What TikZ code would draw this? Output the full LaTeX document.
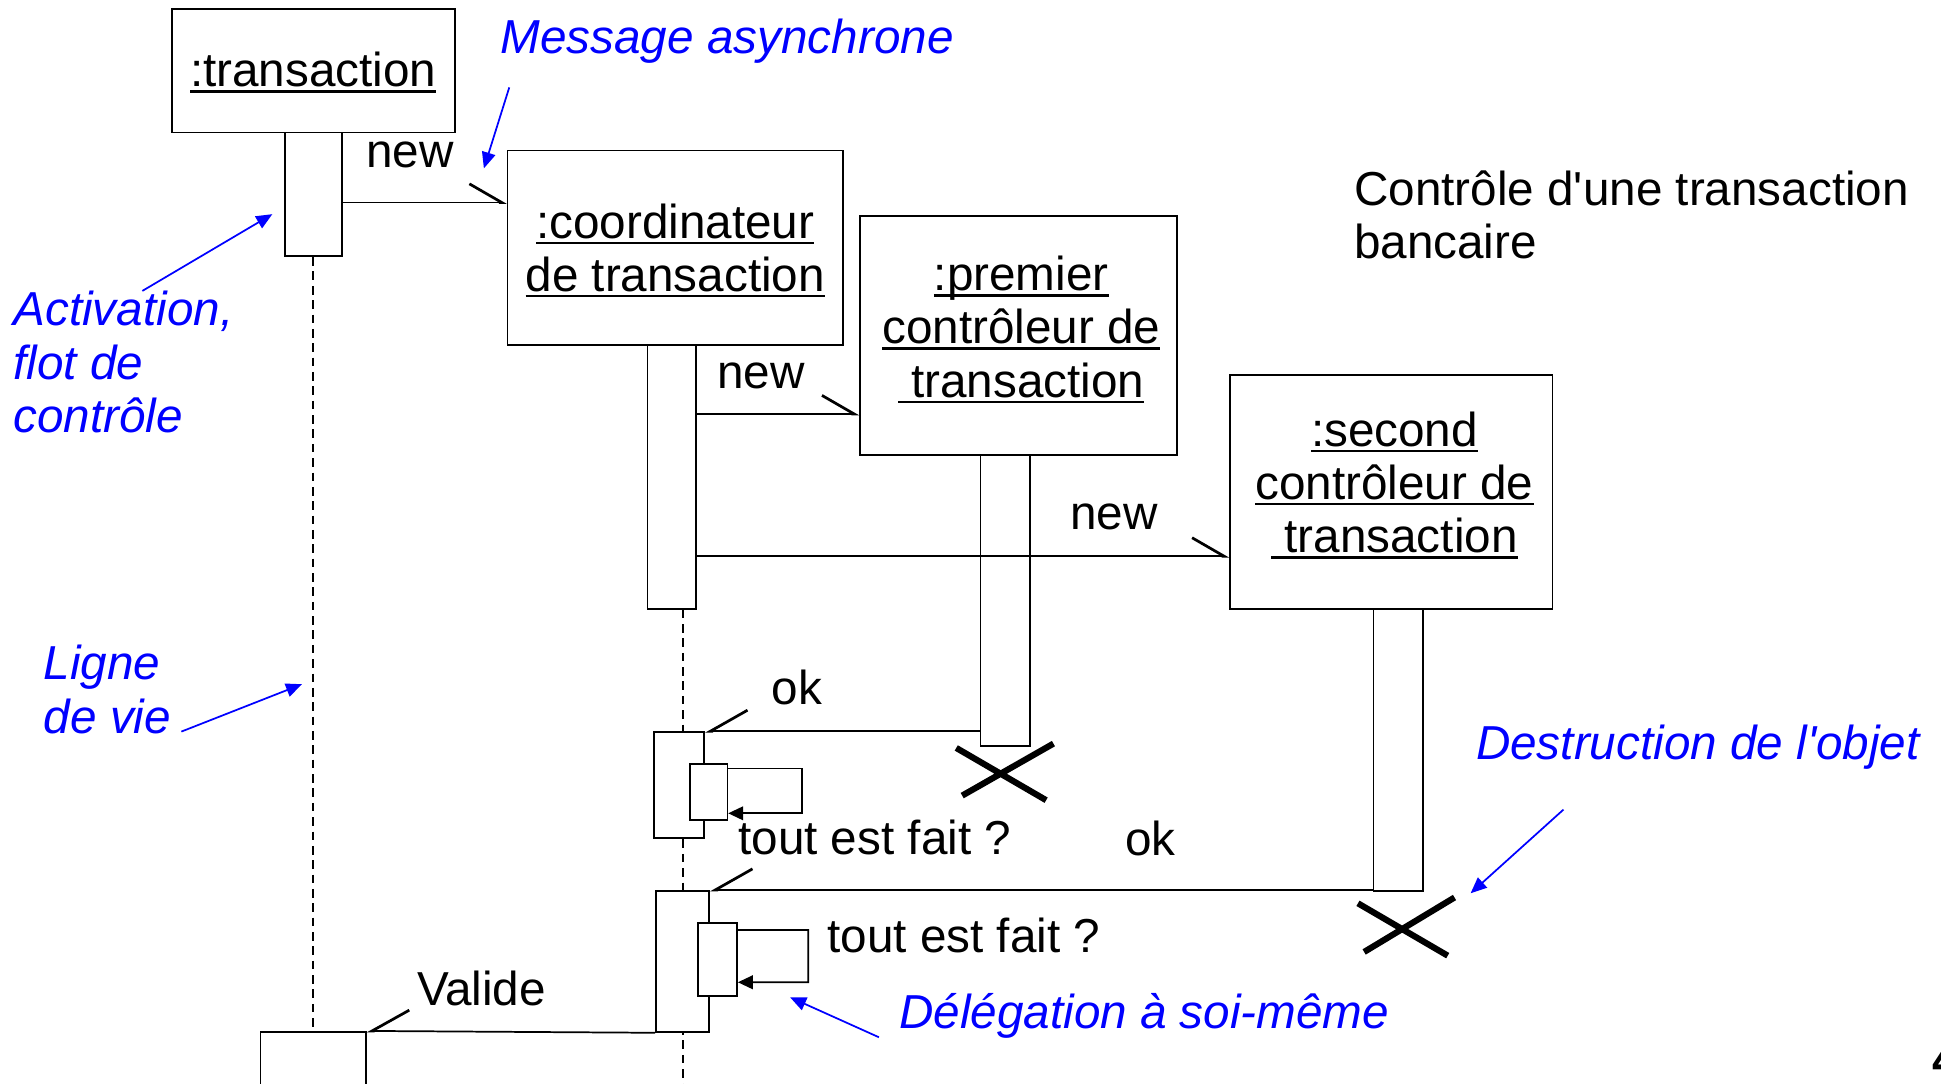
\documentclass[tikz,border=0pt]{standalone}
\usepackage{fontspec}
\setmainfont{Liberation Sans}
\usetikzlibrary{arrows.meta}

\newcommand{\taille}{\fontsize{19.25pt}{21.5pt}\selectfont}
\newcommand{\souligne}[1]{\setbox0=\hbox{#1}\rlap{\raisebox{0pt}[0pt][0pt]{\rule[-2.5pt]{\wd0}{1pt}}}\box0}

\tikzset{
  objet/.style={draw, line width=0.7pt, fill=white, inner sep=0pt},
  nom/.style={align=center, inner sep=0pt},
  texte/.style={inner sep=0pt, anchor=base west},
  note/.style={inner sep=0pt, text=blue, font=\taille\itshape},
  msg/.style={line width=0.7pt, -{Straight Barb[harpoon, length=13pt, width=15pt, line width=1.1pt]}},
  retour/.style={line width=0.7pt, -{Straight Barb[harpoon, swap, length=15pt, width=17pt, line width=1.1pt]}},
  boucle/.style={line width=0.7pt, -{Triangle[length=6pt, width=5.5pt]}},
  fleche/.style={blue, line width=0.7pt, -{Triangle[length=6.5pt, width=5.5pt]}},
  vie/.style={line width=0.7pt, dash pattern=on 3.5pt off 2.3pt},
  croix/.style={line width=2.5pt}
}

\begin{document}
\begin{tikzpicture}[x=0.5pt, y=-0.5pt, font=\taille]
	\useasboundingbox (0,0) rectangle (1568,875);

	% objets et barres d'activation
	\node[objet, minimum width=114.25pt, minimum height=49.75pt] (trans) at (253.25,57.25) {};
	\node[objet, minimum width=23pt, minimum height=50pt] (transact) at (253,157) {};
	\node[objet, minimum width=42.65pt, minimum height=40pt] (transfin) at (253,873.5) {};
	\node[objet, minimum width=135.5pt, minimum height=78.45pt] (coord) at (545.5,199.95) {};
	\node[objet, minimum width=19.5pt, minimum height=106.7pt] (coordact) at (542.5,385.1) {};
	\node[objet, minimum width=128.1pt, minimum height=96.45pt] (prem) at (822.9,270.95) {};
	\node[objet, minimum width=20.1pt, minimum height=117.5pt] (premact) at (812.1,484.9) {};
	\node[objet, minimum width=130.2pt, minimum height=94.6pt] (sec) at (1124,397.4) {};
	\node[objet, minimum width=20pt, minimum height=114pt] (secact) at (1129.5,606) {};

	% lignes de vie
	\coordinate (coordbas) at (552,880);
	\draw[vie] (transact.south) -- (transfin.north);
	\draw[vie] (coordact.south -| coordbas) -- (coordbas);

	% activations imbriquees
	\node[objet, minimum width=20.35pt, minimum height=42.85pt] (okA) at (548.65,634.25) {};
	\node[objet, minimum width=15pt, minimum height=22.75pt] (okAin) at (572.6,639.75) {};
	\node[objet, minimum width=21.5pt, minimum height=57pt] (okB) at (551.5,776.6) {};
	\node[objet, minimum width=15.7pt, minimum height=29.5pt] (okBin) at (579.7,775) {};

	% messages
	\draw[msg] (transact.east |- 0,163.5) -- (coord.west |- 0,163.5);
	\draw[msg] (coordact.east |- 0,334.4) -- (prem.west |- 0,334.4);
	\draw[msg] (coordact.east |- 0,449.4) -- (sec.west |- 0,449.4);
	\draw[retour] (premact.west |- okA.north) -- (okA.north east);
	\draw[retour] (secact.west |- okB.north) -- (okB.north east);
	\draw[retour] (okB.south west) -- (transfin.north east);

	% delegation a soi-meme
	\draw[boucle] (okAin.east |- 0,620.9) -- ++(59.4,0) -- ++(0,36.1) -- (okAin.east |- 0,657);
	\draw[boucle] (okBin.east |- 0,751.2) -- ++(56.8,0) -- ++(0,42.3) -- (okBin.east |- 0,793.5);

	% destructions
	\draw[croix] (772.5,604.2) -- (845.1,646.4) (851,600.7) -- (777.3,642.7);
	\draw[croix] (1097,729.7) -- (1169.5,772) (1175,725) -- (1102,769);

	% noms des objets
	\node[nom, anchor=base] (transnom) at (253,70) {\souligne{:transaction}};
	\node[nom, anchor=north] (coordnom) at (545.5,164) {\souligne{:coordinateur}\\\souligne{de transaction}};
	\node[nom, anchor=north] (premnom) at (825,206.4) {\souligne{:premier}\\\souligne{contrôleur de}\\\souligne{\ transaction}};
	\node[nom, anchor=north] (secnom) at (1126.5,332) {\souligne{:second}\\\souligne{contrôleur de}\\\souligne{\ transaction}};

	% textes des messages
	\node[texte] (new1) at (295.5,135) {new};
	\node[texte] (new2) at (579,314) {new};
	\node[texte] (new3) at (864,428) {new};
	\node[texte] (ok1) at (623,569.5) {ok};
	\node[texte] (ok2) at (908.5,691) {ok};
	\node[texte] (fait1) at (596,690) {tout est fait ?};
	\node[texte] (fait2) at (668,769.5) {tout est fait ?};
	\node[texte] (valide) at (336.5,812) {Valide};
	\node[texte, anchor=north west, align=left] (titre) at (1093.5,137.5) {Contrôle d\textquotesingle une transaction\\bancaire};
	\node[texte, font=\taille\bfseries] (page) at (1561,869.5) {4};

	% commentaires
	\node[note, anchor=base west] (notemsg) at (404,43) {Message asynchrone};
	\node[note, anchor=north west, align=left] (noteact) at (10.5,235) {Activation,\\flot de\\contrôle};
	\node[note, anchor=north west, align=left] (notevie) at (35,521) {Ligne\\de vie};
	\node[note, anchor=base west] (notedest) at (1192,613.5) {Destruction de l\textquotesingle objet};
	\node[note, anchor=base west] (notedeleg) at (726,831) {Délégation à soi-même};

	\coordinate (msgA) at (411.4,70.6);   \coordinate (msgB) at (390.9,136);
	\coordinate (actA) at (115,235);      \coordinate (actB) at (220,173);
	\coordinate (vieA) at (146.5,591);    \coordinate (vieB) at (244,552.7);
	\coordinate (destA) at (1263,654);    \coordinate (destB) at (1188,721.6);
	\coordinate (delegA) at (710,837.9);  \coordinate (delegB) at (638.2,805.6);
	\draw[fleche] (msgA) -- (msgB);
	\draw[fleche] (actA) -- (actB);
	\draw[fleche] (vieA) -- (vieB);
	\draw[fleche] (destA) -- (destB);
	\draw[fleche] (delegA) -- (delegB);
\end{tikzpicture}
\end{document}
